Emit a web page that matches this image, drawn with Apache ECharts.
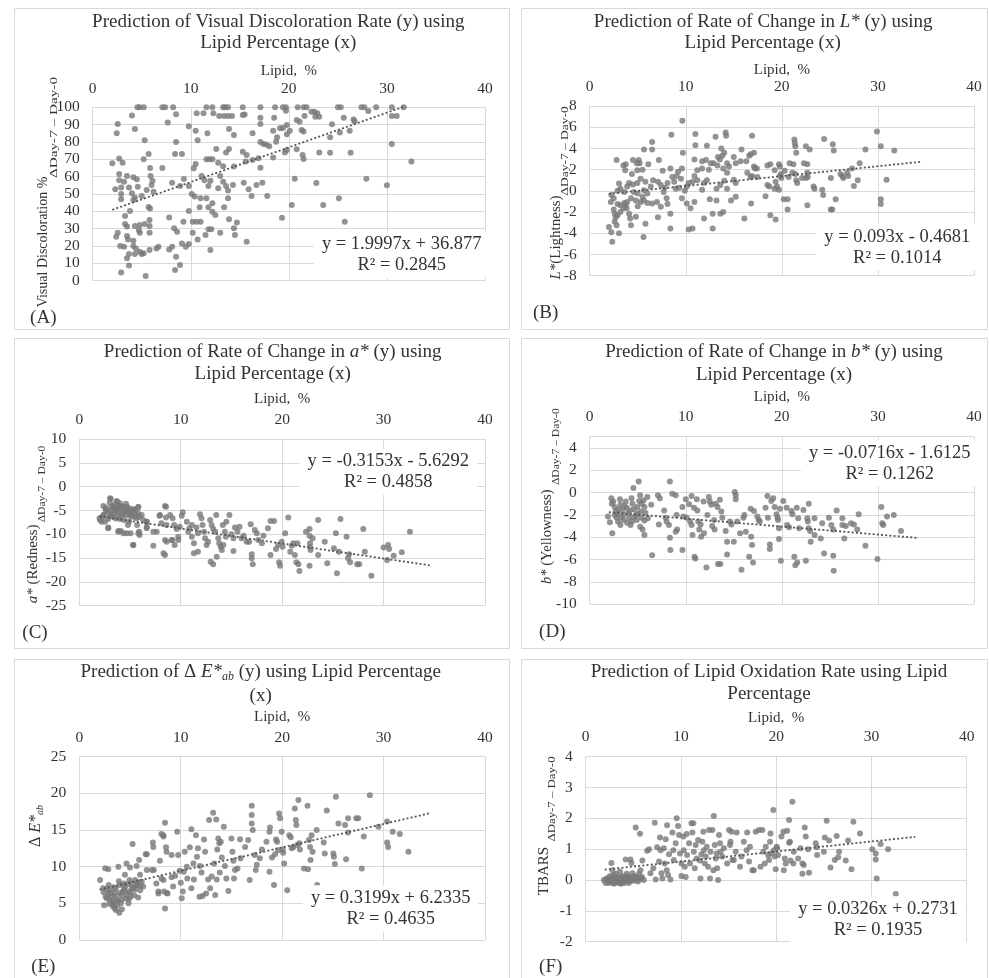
<!DOCTYPE html>
<html>
<head>
<meta charset="utf-8">
<script src="https://cdn.jsdelivr.net/npm/echarts@6/dist/echarts.min.js"></script>
<style>
html, body { margin: 0; padding: 0; background: #fff; }
#main { width: 989px; height: 978px; }
</style>
</head>
<body>
<div id="main"></div>
<script>
// 数据：每个面板的 [脂肪%, 变化量] 散点
var pointsA = [[4.56,100],[4.8,100],[5.2,100],[7.1,100],[7.4,100],[8.2,100],[11.6,100],[12.2,100],[13.3,100],[13.5,100],[13.8,100],[15.3,100],[17.1,100],[18.6,100],
[8.5,96],[10.6,96.5],[11.3,96.5],[12.3,96.5],[12.9,95],[13.4,95],[13.8,95],[14.2,95],[15.3,95.5],[15.5,95.8],[17.1,94],
[4.0,95.2],[2.55,90.4],[17.1,90.4],[7.65,91.3],[9.8,89],
[2.45,85],[4.3,87.5],[10.5,86.5],[11.7,85],[13.9,87.5],[14.4,84],[16.3,85],[18.4,86.5],
[5.3,81],[8.5,80],[10.7,81],[17.1,80],[17.4,78.8],[17.7,78.5],[18.0,77.5],
[12.6,76],[13.6,74],[13.9,76],[8.4,73],[9.1,73],[5.7,73],[5.2,70],[2.7,70.5],[3.05,68],[2.0,67.7],
[11.6,70],[11.9,70],[12.2,70],[12.8,68],[13.3,66],[14.4,65.8],[15.3,74.4],[15.7,72.5],[15.6,68.7],[16.3,69.6],[16.9,70.6],[18.4,71],
[10.5,67.3],[10.3,64.8],[5.85,65],[7.1,65],
[2.7,61.5],[2.7,58],[3.2,57],[3.5,60.4],[4.15,59.6],[4.5,58.5],[5.9,60.4],[6.1,57.7],[8.1,56.5],[9.3,58.7],[9.8,54.6],[8.9,54.6],[11.1,60.4],[11.4,58],[12.0,57.7],[11.8,54.6],[13.0,60.4],[13.3,57],[12.8,53.3],[13.6,54.6],[13.8,52],[14.3,55.2],[15.4,56.5],[15.9,52.7],[16.7,55.2],[17.3,56.5],[16.2,48.8],[17.8,48.8],
[2.3,52.7],[2.9,53.8],[3.7,53.8],[4.6,54.2],[4.0,50.4],[6.0,55.2],[5.5,52.3],[6.2,51.3],
[2.9,50],[2.9,47],[4.3,48],[5.0,48.8],[4.15,46.5],
[10.1,50],[10.4,48.5],[11.0,47.5],[11.6,47.5],[12.2,44.6],[13.8,47.5],[13.4,42.3],
[10.9,42.3],[11.8,42.3],[12.2,39.8],[12.5,37.9],[5.7,42.5],[5.85,41.7],
[3.3,37.3],[3.8,40.2],[9.8,40.2],[7.8,36.5],
[5.8,35],[5.8,31.5],[5.3,32.7],[3.3,32.7],[3.5,31.2],[4.3,31.5],[4.8,32.1],[4.7,29.2],[4.8,27.7],
[8.3,30.2],[8.6,28.3],[9.25,34],[10.2,34],[10.6,34],[11.0,34],[11.8,29.6],[12.1,29.6],[11.5,26.3],
[13.0,27.7],[13.9,35.4],[14.7,33.5],[14.4,30.2],[14.5,26.3],[15.7,22.5],
[2.4,25.4],[2.55,27.7],[3.5,25.8],[3.6,23.8],[5.8,27.7],[10.2,27.7],[10.7,23.8],
[2.8,20],[3.2,19.6],[4.15,23],[4.15,20],[4.4,18.6],[4.8,16.7],[5.0,15.4],[4.3,15.4],[3.7,15.4],[3.5,12.9],[5.2,15.8],[5.8,17.7],[6.7,19.6],[6.5,18.6],
[7.8,18],[8.1,19.6],[8.5,13.8],[8.9,9],[8.4,6.2],[9.5,19.6],[9.1,21.5],[9.8,21.2],[12.0,17.7],
[3.7,8.7],[2.9,4.8],[5.4,2.7],
[19.4,100],[19.7,100],[20.9,100],[21.5,100],[21.8,100],[25.0,100],[25.3,100],[27.4,100],[27.7,100],[28.9,100],[30.5,100],[31.7,100],
[22.3,97.5],[22.6,97.5],[22.9,96.5],[28.1,97.9],[19.7,98],[21.6,95],[22.7,94.6],[23.1,94.6],
[18.5,94],[25.6,94],[30.5,95],[31.0,95],
[20.8,92.7],[21.1,91.7],[19.8,89.8],[19.1,87.9],[19.4,88],[26.6,93],[26.7,92],[24.4,90.2],[21.3,86.9],[21.5,86],[20.1,86.5],[25.2,85.4],[26.2,86.5],[24.2,82.7],[19.8,84.5],[18.8,82.7],[18.7,80.2],[30.5,78.8],
[21.4,72.5],[21.5,70.2],[23.1,74],[24.2,73.8],[26.3,73.8],[20.8,75.8],[19.6,74],[19.8,75.4],[17.1,65.2],[32.5,68.8],
[20.6,58.8],[22.8,56.3],[27.9,58.8],[30.0,55],[25.1,47.5],[20.3,43.7],[23.5,43.7],[19.3,36.3],[25.7,34]];

var pointsB = [[9.64,6.6],[8.5,5.3],[11.0,5.35],[13.1,5.1],[14.15,5.5],[14.2,5.2],[16.9,5.2],[29.9,5.6],[24.4,4.9],[21.3,4.85],[21.35,4.5],[21.4,4.2],[22.5,4.2],[22.9,3.9],[25.3,4.4],[25.4,3.8],[30.3,4.2],[31.7,3.8],[28.7,3.9],[6.5,4.6],[6.5,3.9],[5.65,3.9],[11.0,4.3],[12.2,4.25],[9.7,3.6],[13.7,4.0],[15.8,3.9],[16.75,3.45],[17.1,3.6],[21.5,3.6],
[2.8,2.9],[3.75,2.5],[4.5,2.9],[4.9,2.6],[5.1,2.9],[5.2,2.6],[7.2,2.9],[10.9,2.95],[11.7,2.8],[12.1,2.9],[12.9,2.6],[13.35,3.2],[13.55,2.95],[13.8,3.3],[14.0,3.6],[15.0,3.2],[15.2,2.6],[15.7,2.8],[16.3,2.8],[16.6,3.3],[19.7,2.5],[19.8,2.3],[20.8,2.6],[21.2,2.5],[28.1,2.6],[27.3,2.1],[22.3,2.6],[22.65,2.5],[17.1,2.3],[17.2,2.1],[17.4,2.1],[18.5,2.4],[18.8,2.5],[19.25,1.95],[14.3,2.6],[8.4,2.1],[9.2,1.8],[9.6,2.1],[7.6,1.9],[3.5,2.4],[3.7,1.95],[4.4,1.6],[4.96,1.95],[5.5,2.0],[6.1,2.5],[11.7,2.1],[11.2,1.95],[10.9,1.4],[12.4,2.0],[12.6,2.6],[13.3,2.4],[13.9,2.1],[14.3,1.7],[14.5,2.3],[16.4,1.7],[16.75,1.3],[16.9,1.4],[17.45,1.3],[19.9,1.6],[20.3,1.9],[19.95,1.2],[20.7,1.3],[21.1,1.7],[21.4,1.6],[21.5,1.0],[21.6,0.75],[22.1,1.2],[22.5,1.2],[22.7,1.3],[22.65,1.7],[25.1,1.2],[26.1,1.6],[26.3,1.4],[26.4,1.2],[27.9,1.0],[27.5,0.45],[23.3,0.4],[23.4,0.2],[24.2,0.1],[24.3,-0.4],[18.5,0.55],[18.7,0.4],[19.25,0.2],[19.5,0.4],[19.7,0.1],[19.8,1.4],[19.35,0.85],[15.0,1.05],[15.2,0.75],[14.3,0.2],[14.0,0.95],[13.6,0.55],[13.2,0.2],[12.2,1.0],[11.9,0.75],[11.7,0.1],[11.2,1.0],[10.7,0.85],[10.3,0.75],[10.1,0.4],[9.9,0.0],[9.3,0.3],[8.95,0.2],[8.6,1.3],[8.8,0.85],[9.05,1.4],[9.5,1.15],[8.1,0.75],[7.8,0.3],[7.7,-0.1],[7.4,0.55],[7.1,0.85],[6.6,1.0],[6.35,0.4],[5.8,0.85],[5.65,0.05],[6.0,-0.25],[5.3,1.15],[4.96,0.75],[4.5,0.6],[4.1,0.75],[3.9,0.4],[3.6,-0.1],[3.2,0.2],[3.05,0.7],[2.9,0.0],[4.6,-0.1],[5.0,-0.25],[5.5,-0.55],[4.8,-0.9],[4.3,-0.7],[3.9,-1.05],[3.75,-1.35],[3.5,-1.65],[3.2,-2.0],[2.9,-2.3],[2.7,-2.5],[2.6,-2.9],[2.9,-1.25],[2.5,-0.7],[2.25,-0.4],[2.2,-1.05],[2.5,-1.75],[2.6,-2.15],[2.0,-3.4],[2.25,-3.9],[2.35,-4.8],[3.05,-4.0],[2.8,-3.25],[3.2,-1.35],[3.6,-1.15],[3.85,-1.65],[4.1,-2.15],[4.3,-3.25],[4.2,-2.6],[4.8,-2.45],[5.0,-1.45],[5.3,-1.05],[5.65,-0.9],[6.0,-1.15],[5.6,-4.35],[5.8,-3.1],[6.5,-1.2],[7.0,-1.05],[7.1,-2.5],[7.4,-1.5],[8.0,-0.7],[8.1,-1.25],[8.4,-2.15],[8.4,-3.55],[9.6,-0.7],[10.1,-1.2],[10.5,-1.65],[10.3,-3.65],[10.7,-3.55],[10.9,-1.05],[11.9,-2.6],[12.8,-3.55],[12.5,-0.8],[12.8,-2.15],[13.2,-0.9],[13.6,-2.15],[13.9,-2.0],[14.7,-0.9],[15.2,-0.55],[16.1,-2.6],[16.8,-1.2],[18.3,-0.5],[18.8,-2.3],[19.35,-2.7],[20.2,-0.8],[20.6,-0.8],[20.6,-1.75],[22.65,-1.35],[25.1,-1.75],[25.25,-1.75],[25.6,-0.8],[30.3,-0.8],[30.3,-1.25],[30.9,1.05],[26.9,1.4],[26.8,1.7]];

var pointsC = [[2.0,-6.65],[2.2,-7.35],[2.4,-5.95],[2.6,-4.4],[2.75,-4.9],[2.85,-6.8],[2.85,-8.6],[3.1,-2.6],[3.2,-4.2],[3.3,-4.9],[3.4,-3.85],[3.5,-5.6],[3.35,-6.3],[3.7,-3.0],[3.75,-4.4],[3.85,-5.25],[3.95,-6.3],[4.0,-3.5],[4.1,-4.7],[4.3,-4.2],[4.35,-5.6],[4.4,-7.0],[4.5,-4.9],[4.65,-5.95],[3.85,-9.3],[4.1,-9.3],[4.35,-9.8],[4.8,-4.4],[5.0,-5.25],[5.15,-6.3],[5.25,-4.7],[4.8,-8.05],[5.05,-9.8],[5.3,-12.25],[5.5,-5.6],[5.65,-6.65],[5.7,-8.05],[5.8,-4.4],[5.8,-5.6],[5.9,-9.45],[5.95,-10.15],[6.15,-5.95],[6.3,-7.0],[6.65,-7.35],[6.65,-8.4],[7.3,-9.45],[7.3,-12.4],
[2.6,-5.0],[2.9,-5.4],[3.2,-5.8],[3.5,-4.6],[3.7,-5.3],[3.9,-4.0],[4.2,-5.9],[4.4,-4.4],[4.7,-5.2],[5.0,-6.0],[5.3,-5.0],[5.5,-4.8],[5.9,-6.4],[3.0,-6.2],[3.6,-6.7],[2.4,-6.0],[4.0,-6.8],[4.9,-7.3],[2.2,-6.5],[3.3,-4.3],[4.6,-3.6],[3.0,-3.4],
[3.03,-2.45],[3.69,-3.15],[2.37,-4.05],[4.01,-4.05],[4.67,-4.2],[5.82,-4.2],[5.17,-5.6],[5.49,-6.3],[2.04,-7.0],[2.53,-7.35],[2.86,-8.75],[3.85,-9.45],[4.67,-9.8],[5.82,-9.8],[5.33,-12.25],[6.65,-7.35],[8.45,-4.05],[7.96,-5.95],[6.65,-8.75],[7.63,-9.45],[8.62,-11.55],[9.17,-11.2],[9.76,-11.2],
[7.9,-6.1],[8.1,-7.7],[8.3,-14.0],[8.45,-14.35],[8.55,-4.2],[8.55,-6.5],[8.6,-8.05],[8.45,-11.2],[8.95,-5.95],[9.2,-6.65],[9.35,-8.05],[9.6,-8.9],[9.9,-8.4],[10.2,-5.4],[10.1,-6.1],[9.75,-10.5],[9.4,-12.25],[9.1,-11.2],
[10.6,-7.35],[10.85,-8.75],[10.75,-9.45],[11.1,-8.05],[11.1,-10.5],[11.3,-11.9],[11.3,-14.0],[11.55,-8.6],[11.7,-9.8],[11.7,-13.65],[11.9,-5.8],[12.05,-6.65],[12.15,-8.05],[12.3,-9.45],[12.4,-10.85],[12.55,-12.25],[12.7,-11.55],[12.9,-7.0],[13.05,-8.05],[13.2,-8.9],[13.4,-9.45],[12.95,-15.75],[13.2,-16.3],[13.5,-5.95],
[13.7,-10.85],[13.8,-11.9],[13.95,-12.6],[14.05,-13.3],[14.2,-12.25],[14.15,-8.05],[14.35,-9.45],[14.45,-10.5],[14.5,-7.35],[13.55,-14.7],[14.8,-5.95],[15.0,-10.0],[15.2,-10.85],[15.2,-13.5],[15.35,-8.6],[15.6,-9.45],[15.8,-8.4],[16.0,-10.85],[16.2,-10.3],
[16.5,-11.55],[16.75,-11.55],[16.9,-7.9],[17.0,-14.2],[17.1,-16.3],[17.0,-15.05],[17.3,-9.1],[17.5,-9.8],[17.65,-11.2],[18.0,-11.9],[18.15,-10.3],
[18.6,-8.75],[18.85,-7.2],[19.2,-7.2],[18.85,-14.35],[19.4,-13.1],[19.6,-12.25],[19.7,-15.9],[19.8,-16.6],[19.95,-11.55],[20.05,-12.6],[20.3,-9.8],
[20.6,-6.5],[20.8,-13.65],[20.95,-12.4],[21.1,-11.9],[21.25,-14.35],[21.4,-15.9],[21.6,-16.3],[21.7,-17.7],[21.5,-11.9],
[22.35,-9.45],[22.7,-8.9],[22.7,-10.3],[22.75,-11.9],[22.75,-12.6],[23.0,-10.85],[22.8,-13.3],[22.7,-16.6],[23.55,-14.35],[23.55,-7.0],
[24.2,-11.55],[24.45,-16.1],[25.1,-12.95],[25.3,-9.8],[25.4,-18.2],[25.6,-13.65],[25.75,-6.8],[26.35,-10.5],[26.5,-15.05],[26.6,-14.2],[26.7,-15.9],[27.4,-16.3],[27.6,-16.3],[28.0,-8.9],[28.15,-13.65],[28.8,-18.7],[30.0,-12.8],[30.45,-12.25],[30.55,-13.1],[30.35,-15.4],[31.0,-14.5],[31.8,-13.8],[32.6,-9.45]];

var pointsD = [[5.1,1.0],[4.55,0.4],[8.35,1.0],[1.9,-2.15],[2.1,-2.65],[2.35,-3.65],[2.25,-0.5],[2.45,-0.8],[2.6,-1.3],[2.7,-1.7],[2.8,-2.25],[2.95,-2.6],[3.15,-0.6],[3.2,-1.1],[3.4,-1.6],[3.5,-2.0],[3.55,-2.45],[3.75,-0.8],[3.85,-1.35],[4.0,-1.85],[4.1,-2.25],[4.25,-2.9],[4.35,-0.5],[4.45,-1.0],[4.6,-1.5],[4.8,-2.0],[4.9,-2.45],[4.95,-1.3],[5.15,-0.75],[5.25,-0.25],[5.3,-1.7],[5.4,-2.25],[5.6,-0.7],[5.7,-1.3],[5.8,-1.8],[6.0,-0.4],[6.05,-2.3],[5.25,-3.05],[5.5,-3.3],[5.7,-3.8],
[2.3,-1.0],[2.6,-2.0],[3.0,-1.5],[3.3,-2.2],[3.6,-1.2],[3.9,-2.7],[4.2,-1.6],[4.6,-2.2],[5.0,-1.9],[5.4,-1.0],[5.7,-2.5],[3.2,-2.9],[4.4,-2.6],[2.9,-1.9],
[6.4,-1.1],[6.5,-5.6],[7.1,-0.25],[7.3,-0.5],[7.2,-2.85],[7.75,-1.6],[7.9,-2.25],[8.0,-2.6],[8.25,-2.9],[8.35,-4.05],[8.4,-5.15],[8.6,-0.1],[8.95,-0.25],[8.95,-3.5],[9.1,-3.3],[9.05,-2.0],
[9.65,-1.3],[9.75,-2.15],[9.65,-5.15],[10.0,-0.6],[10.1,-2.25],[10.35,-1.05],[10.45,-2.6],[10.6,-2.9],[10.6,-0.3],[10.7,-3.8],[10.85,-1.35],[10.9,-5.75],[11.0,-5.9],[11.15,-0.6],[11.2,-1.6],[11.3,-2.6],[11.4,-3.3],[11.55,-2.85],[11.6,-3.95],[11.85,-0.8],[11.9,-3.65],
[12.15,-6.7],[12.25,-2.0],[12.4,-0.4],[12.5,-0.8],[12.65,-1.1],[12.75,-3.0],[12.95,-2.45],[13.0,-3.3],[13.1,-1.0],[13.3,-1.3],[13.35,-6.4],[13.6,-6.4],[13.55,-0.65],[13.7,-1.7],[13.8,-2.25],
[14.15,-3.45],[14.3,-4.4],[14.3,-5.55],[14.6,-2.6],[14.75,-2.85],[15.0,-4.4],[15.1,0.05],[15.2,-0.25],[15.2,-0.6],[15.35,-2.6],[15.65,-3.65],[15.8,-6.9],[16.0,-2.25],[16.1,-2.0],[16.25,-3.5],
[16.6,-5.75],[16.75,-1.45],[16.8,-3.95],[16.9,-4.7],[17.0,-6.25],[17.1,-1.65],[17.45,-2.15],[17.6,-2.45],[17.7,-2.6],
[18.3,-1.35],[18.5,-0.3],[18.55,-2.25],[18.75,-5.05],[18.75,-4.65],[18.9,-0.75],[19.1,-0.5],[19.25,-1.3],[19.45,-1.95],[19.55,-2.25],[19.6,-2.45],[19.7,-3.2],[19.7,-4.15],[19.8,-1.45],[19.9,-6.1],
[20.15,-0.75],[20.5,-1.35],[20.55,-2.9],[20.75,-3.1],[21.0,-1.65],[21.1,-1.95],[21.3,-5.75],[21.4,-6.5],[21.55,-1.35],[21.6,-6.25],[21.7,-2.3],[21.8,-3.2],
[22.25,-1.55],[22.5,-6.1],[22.65,-2.3],[22.7,-2.6],[22.8,-1.0],[22.8,-3.2],[22.95,-3.45],[23.0,-4.4],[23.4,-2.3],[23.4,-3.8],
[24.05,-4.1],[24.2,-2.75],[24.4,-5.45],[24.9,-2.25],[25.15,-2.9],[25.35,-3.3],[25.35,-5.65],[25.4,-7.0],[25.7,-1.6],[26.3,-2.3],[26.3,-2.9],[26.5,-4.1],[26.65,-3.0],[27.2,-2.75],[27.5,-2.85],[27.85,-3.3],[28.0,-1.95],[28.7,-4.75],[29.95,-5.95],[30.35,-1.3],[30.45,-2.75],[30.55,-2.9],[30.95,-2.15],[31.65,-2.0],[32.4,-3.45]];

var pointsE = [[2.05,8.2],[2.35,7.05],[2.55,9.8],[2.85,9.65],[2.45,4.75],[2.7,5.7],[2.85,6.35],[3.0,6.8],[2.95,4.9],[3.2,5.9],[3.3,5.2],[3.4,7.2],[3.5,6.45],[3.7,5.55],[3.75,4.75],[3.35,4.55],[3.6,4.1],
[3.85,10.0],[4.0,7.5],[4.1,6.15],[4.2,4.2],[3.95,3.7],[4.3,6.6],[4.4,7.7],[4.5,7.3],[4.6,5.7],[4.65,10.45],[4.85,5.0],[4.95,8.2],[5.0,9.9],[5.05,5.9],
[2.4,6.5],[2.7,7.0],[3.0,5.5],[3.1,6.4],[3.3,5.0],[3.5,6.0],[3.6,7.0],[3.8,5.3],[4.0,6.4],[4.2,5.5],[4.4,6.9],[4.6,6.2],[4.8,7.6],[5.0,6.5],[5.2,7.1],[5.5,6.9],[5.8,7.9],[6.0,7.4],[2.6,5.9],[3.4,4.8],[4.1,5.0],[4.9,5.6],[5.4,6.1],[2.9,7.5],[3.9,8.0],
[5.99,8.9],[4.5,8.9],[3.52,4.3],[4.83,6.6],[5.66,7.5],[6.65,11.7],[8.1,8.4],[7.8,6.6],[8.62,6.4],[8.28,14.3],
[5.25,13.1],[5.15,7.7],[5.3,7.05],[5.5,8.2],[5.65,10.1],[5.7,7.5],[5.8,5.8],[5.9,10.9],[6.0,6.8],[6.15,7.95],[6.3,7.3],[6.55,11.7],[6.65,9.55],
[7.15,9.55],[7.25,13.3],[7.3,12.7],[7.35,9.55],[7.6,7.7],[7.8,6.35],[7.95,10.8],[8.1,14.45],[8.3,14.1],[8.3,8.2],[8.35,6.6],[8.45,16.0],[8.45,4.3],[8.55,12.65],[8.6,12.05],[8.7,6.35],
[9.1,11.6],[9.1,8.55],[9.25,7.3],[9.45,8.75],[9.65,14.75],[9.75,11.6],[9.9,9.45],[10.0,7.8],[10.1,5.7],[10.2,6.6],[10.3,9.3],[10.4,12.05],[10.6,10.0],[10.65,8.4],
[10.9,12.65],[11.05,15.1],[11.05,7.05],[11.25,10.45],[11.3,8.25],[11.5,14.3],[11.6,11.35],[11.7,12.5],[11.85,5.9],[11.9,10.1],[12.05,9.2],[12.15,6.0],[12.3,13.7],[12.4,12.05],[12.5,6.35],
[12.7,8.25],[12.8,16.35],[12.9,7.05],[13.05,8.65],[13.2,17.35],[13.3,10.45],[13.4,6.15],[13.5,16.45],[13.55,8.25],[13.6,12.35],[13.7,13.85],[13.8,13.2],[13.85,9.2],[13.95,13.4],[14.05,11.25],[14.25,15.45],[14.35,10.1],[14.5,8.4],[14.7,6.7],
[15.0,13.85],[15.1,12.05],[15.2,10.8],[15.25,8.4],[15.35,9.55],[15.6,9.75],[15.85,13.75],[15.9,11.15],[16.35,12.7],[16.65,13.65],[16.8,8.2],
[17.0,18.3],[17.0,17.05],[17.0,15.9],[17.1,15.0],[17.3,11.6],[17.4,9.55],[17.5,10.25],[17.8,11.15],[18.0,12.35],
[18.45,13.4],[18.75,14.75],[18.75,9.3],[18.8,15.35],[19.0,11.25],[19.2,7.5],[19.3,11.7],[19.4,13.7],[19.5,13.4],[19.6,12.25],[19.7,17.25],[19.8,16.6],[19.95,14.75],[20.05,12.35],[20.1,11.9],[20.2,10.45],[20.5,6.8],
[20.7,14.3],[20.85,14.0],[20.95,12.5],[21.1,12.7],[21.25,17.95],[21.35,16.35],[21.4,15.7],[21.5,12.95],[21.6,19.1],[21.7,13.2],[21.75,12.35],
[22.15,9.75],[22.5,18.3],[22.55,9.65],[22.65,13.65],[22.75,12.7],[22.8,10.9],[22.9,14.3],[23.0,12.05],[23.4,15.0],[23.45,7.5],[24.1,13.3],[24.2,11.8],[24.4,17.65],[25.05,11.8],[25.1,11.35],[25.2,10.35],[25.3,19.55],[25.55,15.9],[26.2,15.7],[26.3,11.0],[26.5,14.65],[26.5,16.6],[27.3,16.6],[27.5,16.6],[27.85,9.75],[28.05,14.1],[28.65,19.75],[29.5,15.45],[30.35,16.15],[30.35,13.3],[30.45,12.7],[30.9,14.75],[31.6,14.45],[32.45,12.05]];

var pointsF = [[1.9,0.0],[2.1,-0.1],[2.3,0.05],[2.45,-0.1],[2.55,0.13],[2.6,-0.02],[2.7,0.55],[2.8,0.32],[2.9,-0.1],[3.05,0.02],[3.15,0.2],[3.25,-0.05],[3.4,0.1],[3.5,-0.1],[3.6,0.27],[3.75,0.0],[3.85,0.13],[3.95,-0.05],[4.1,0.05],[4.2,0.67],[4.3,0.2],[4.35,0.0],[4.55,0.1],[4.65,-0.05],[4.7,0.67],[4.8,0.55],[4.9,0.22],[5.0,0.05],[5.05,-0.02],[5.25,1.7],[5.35,0.1],[5.4,0.0],[5.6,0.2],[5.7,1.5],[5.75,0.32],[5.85,0.05],[5.95,0.63],[6.1,0.0],
[2.2,0.05],[2.5,-0.05],[2.75,0.08],[3.0,-0.12],[3.3,0.05],[3.55,-0.08],[3.8,0.08],[4.05,-0.1],[4.4,0.12],[4.75,0.02],[5.1,0.12],[5.5,-0.05],[5.9,0.1],[2.95,0.15],[3.7,-0.12],[4.5,-0.1],
[6.45,0.95],[6.65,1.0],[6.8,0.22],[7.1,0.38],[7.25,1.86],[7.35,0.02],[7.5,1.06],[7.7,0.6],[7.8,1.38],[7.85,0.97],[7.95,0.22],[8.05,0.05],[8.2,1.03],[8.3,0.54],[8.4,1.32],[8.5,0.32],[8.55,1.78],[8.65,0.16],[8.75,0.84],[8.9,0.02],[9.1,1.54],[9.2,0.97],[9.25,0.65],[9.45,1.19],[9.55,2.0],[9.7,1.75],[9.8,1.46],[9.9,0.86],[10.05,0.54],[10.05,0.13],
[10.25,1.41],[10.3,0.97],[10.4,0.43],[10.5,0.1],[10.6,1.49],[10.65,0.81],[10.85,1.19],[10.95,0.54],[11.1,1.84],[11.2,1.54],[11.3,1.84],[11.35,0.92],[11.45,0.38],[11.55,1.14],[11.65,0.7],[11.8,1.3],[12.0,0.63],[12.05,0.05],[12.15,0.84],[12.25,1.24],[12.35,1.57],[12.4,0.97],[12.5,0.54],[12.6,0.76],[12.7,1.08],[12.85,0.43],[12.95,1.62],[13.05,0.05],[13.1,0.92],[13.3,1.62],[13.4,0.32],[13.45,2.08],[13.55,1.14],[13.65,0.7],[13.75,0.86],[13.8,0.38],[13.9,0.0],[14.0,1.46],[14.1,1.19],[14.15,0.92],[14.35,0.76],[14.5,1.03],
[14.85,0.54],[15.05,1.62],[15.15,1.14],[15.2,1.24],[15.3,1.57],[15.4,0.65],[15.55,0.65],[15.75,0.92],[15.85,1.54],[16.2,0.43],[16.35,0.76],[16.6,1.24],[16.9,0.97],[16.95,1.54],[17.15,0.6],[17.25,1.08],[17.5,0.32],[17.65,0.32],[17.85,1.57],[18.2,1.62],[18.35,0.43],[18.55,1.62],[18.65,0.92],[18.8,0.54],[18.9,1.08],[19.15,0.81],[19.25,0.65],[19.35,1.24],[19.4,1.51],[19.5,0.86],[19.7,2.27],[19.75,0.97],[19.85,0.76],[19.95,0.35],[20.05,1.08],[20.1,1.03],[20.2,0.81],
[20.55,1.41],[20.75,1.57],[20.8,0.32],[20.9,0.7],[21.0,0.54],[21.15,1.6],[21.35,1.21],[21.35,1.95],[21.45,1.24],[21.5,0.63],[21.7,2.54],[21.8,0.54],[21.85,0.92],[22.3,0.7],[22.55,1.03],[22.75,0.54],[22.75,0.2],[22.9,0.49],[23.0,1.7],[23.1,1.41],[23.35,1.0],[23.45,0.24],[24.15,1.19],[24.25,1.06],[24.3,0.81],[25.0,0.92],[25.1,1.38],[25.3,1.92],[25.55,1.28],[25.7,0.41],[26.15,0.65],[26.35,1.43],[26.5,0.74],[26.6,0.92],[27.3,0.63],[27.55,1.28],[27.9,0.35],[28.1,1.89],[28.8,1.51],[30.1,1.0],[30.45,0.86],[30.45,0.67],[30.55,0.05],[30.95,1.17],[31.75,1.0],[32.55,-0.45]];

// 趋势线端点（读自图中虚线）
var trendA = [[2.0, 40.9], [34.6, 106.1]];
var trendB = [[2.0, -0.28], [34.6, 2.75]];
var trendC = [[2.0, -6.26], [34.6, -16.54]];
var trendD = [[2.0, -1.76], [34.2, -4.06]];
var trendE = [[2.0, 6.87], [34.6, 17.3]];
var trendF = [[2.0, 0.34], [34.6, 1.40]];

// 坐标轴范围 [min, max, interval]
var xRange = [0, 40, 10];
var yRangeA = [0, 100, 10];
var yRangeB = [-8, 8, 2];
var yRangeC = [-25, 10, 5];
var yRangeD = [-10, 5, 2];
var yRangeE = [0, 25, 5];
var yRangeF = [-2, 4, 1];

var equations = [
    'y = 1.9997x + 36.877\nR² = 0.2845',
    'y = 0.093x - 0.4681\nR² = 0.1014',
    'y = -0.3153x - 5.6292\nR² = 0.4858',
    'y = -0.0716x - 1.6125\nR² = 0.1262',
    'y = 0.3199x + 6.2335\nR² = 0.4635',
    'y = 0.0326x + 0.2731\nR² = 0.1935'
];

var FONT = 'Liberation Serif';
var TXT = '#333';

var panels = [
    {pts: pointsA, trend: trendA, yr: yRangeA, grid: [92.7, 107.3, 392.3, 173.4], lm: 10, ng: 29, eq: [401.7, 254.5]},
    {pts: pointsB, trend: trendB, yr: yRangeB, grid: [589.7, 106, 384.3, 169.7], lm: 11, ng: 28, eq: [897.3, 247.3]},
    {pts: pointsC, trend: trendC, yr: yRangeC, grid: [79.3, 439, 405.7, 166.7], lm: 11, ng: 32, eq: [388.3, 472]},
    {pts: pointsD, trend: trendD, yr: yRangeD, grid: [589.7, 436.7, 384.3, 167.6], lm: 12, ng: 32, eq: [889.7, 463.3]},
    {pts: pointsE, trend: trendE, yr: yRangeE, grid: [79.3, 756.7, 405.7, 183.3], lm: 10.5, ng: 32, eq: [390.7, 908.3]},
    {pts: pointsF, trend: trendF, yr: yRangeF, grid: [585.7, 756.7, 381, 185], lm: 11.5, ng: 31, eq: [878, 919.3]}
];

var grids = [], xAxes = [], yAxes = [], series = [];
panels.forEach(function (p, i) {
    grids.push({left: p.grid[0], top: p.grid[1], width: p.grid[2], height: p.grid[3], outerBoundsMode: 'none'});
    xAxes.push({
        gridIndex: i, type: 'value', position: 'top',
        min: xRange[0], max: xRange[1], interval: xRange[2],
        axisLine: {show: false}, axisTick: {show: false},
        splitLine: {show: true, lineStyle: {color: '#d9d9d9', width: 1}},
        axisLabel: {margin: p.lm, fontFamily: FONT, fontSize: 15.5, color: TXT},
        name: 'Lipid,  %', nameLocation: 'middle', nameGap: p.ng,
        nameTextStyle: {fontFamily: FONT, fontSize: 15, color: TXT}
    });
    yAxes.push({
        gridIndex: i, type: 'value',
        min: p.yr[0], max: p.yr[1], interval: p.yr[2],
        axisLine: {show: false}, axisTick: {show: false},
        splitLine: {show: true, lineStyle: {color: '#d9d9d9', width: 1}},
        axisLabel: {margin: 13, fontFamily: FONT, fontSize: 15.5, color: TXT, showMaxLabel: i !== 3}
    });
    series.push({
        type: 'scatter', xAxisIndex: i, yAxisIndex: i, data: p.pts,
        symbolSize: 6, itemStyle: {color: '#787878'}, clip: false, silent: true, z: 2
    });
    series.push({
        type: 'line', xAxisIndex: i, yAxisIndex: i, data: p.trend,
        showSymbol: false, symbol: 'none', clip: true, silent: true, z: 3,
        lineStyle: {color: '#555', width: 1.8, type: [2, 2.2]}
    });
});

function txt(x, y, text, size, extra) {
    var el = {
        type: 'text', x: x, y: y, z: 100, silent: true,
        style: {
            text: text, fontFamily: FONT, fontSize: size, fill: TXT,
            align: 'center', verticalAlign: 'middle', textAlign: 'center', textVerticalAlign: 'middle',
            rich: {
                i: {fontFamily: FONT, fontSize: size, fontStyle: 'italic', fill: TXT},
                sub: {fontFamily: FONT, fontSize: Math.round(size * 0.62), fontStyle: 'italic', fill: TXT, verticalAlign: 'bottom', lineHeight: size + 3},
                n: {fontFamily: FONT, fontSize: size, fill: TXT, lineHeight: size + 3}
            }
        }
    };
    if (extra) {
        for (var k in extra) el[k] = extra[k];
    }
    return el;
}

var graphics = [];
// 面板边框
[[14, 8, 495, 321], [521, 8, 466, 321], [14, 338, 495, 310], [521, 338, 466, 310], [14, 659, 495, 330], [521, 659, 466, 330]].forEach(function (r) {
    graphics.push({type: 'rect', shape: {x: r[0] + 0.5, y: r[1] + 0.5, width: r[2], height: r[3]}, style: {fill: 'none', stroke: '#d9d9d9', lineWidth: 1}, z: 0, silent: true});
});

// 标题
graphics.push(txt(278.3, 21.7, 'Prediction of Visual Discoloration Rate (y) using', 19));
graphics.push(txt(278.3, 43.3, 'Lipid Percentage (x)', 19));
graphics.push(txt(763.2, 21.7, 'Prediction of Rate of Change in {i|L*} (y) using', 19));
graphics.push(txt(762.7, 43.3, 'Lipid Percentage (x)', 19));
graphics.push(txt(272.7, 351.7, 'Prediction of Rate of Change in {i|a*} (y) using', 19));
graphics.push(txt(272.7, 374.3, 'Lipid Percentage (x)', 19));
graphics.push(txt(774, 351.7, 'Prediction of Rate of Change in {i|b*} (y) using', 19));
graphics.push(txt(774, 375, 'Lipid Percentage (x)', 19));
graphics.push(txt(260.7, 671.7, '{n|Prediction of Δ }{i|E*}{sub|ab}{n| (y) using Lipid Percentage}', 19));
graphics.push(txt(260.7, 696, '(x)', 19));
graphics.push(txt(769, 671.7, 'Prediction of Lipid Oxidation Rate using Lipid', 19));
graphics.push(txt(769, 694, 'Percentage', 19));

// 纵轴标题（旋转）
var ROT = Math.PI / 2;
graphics.push(txt(43.3, 242, 'Visual Discoloration %', 14, {rotation: ROT}));
graphics.push(txt(54, 127.5, 'ΔDay-7 – Day-0', 10.5, {rotation: ROT, scaleX: 1.45}));
graphics.push(txt(555.7, 237.5, '{i|L*}(Lightness)', 15, {rotation: ROT}));
graphics.push(txt(565, 151, 'ΔDay-7 – Day-0', 10.5, {rotation: ROT, scaleX: 1.28}));
graphics.push(txt(33.3, 563.8, '{i|a*} (Redness)', 15, {rotation: ROT}));
graphics.push(txt(42, 484, 'ΔDay-7 – Day-0', 10.5, {rotation: ROT, scaleX: 1.1}));
graphics.push(txt(547.3, 536.7, '{i|b*} (Yellowness)', 14.6, {rotation: ROT}));
graphics.push(txt(556, 446.7, 'ΔDay-7 – Day-0', 10.5, {rotation: ROT, scaleX: 1.1}));
graphics.push(txt(36, 826, '{n|Δ }{i|E*}{sub|ab}', 16, {rotation: ROT}));
graphics.push(txt(544, 871, 'TBARS', 15, {rotation: ROT}));
graphics.push(txt(552, 799, 'ΔDay-7 – Day-0', 10.5, {rotation: ROT, scaleX: 1.22}));

// 回归方程
panels.forEach(function (p, i) {
    graphics.push({
        type: 'text', x: p.eq[0], y: p.eq[1], z: 100, silent: true,
        style: {
            text: equations[i], fontFamily: FONT, fontSize: 18.5, lineHeight: 21, fill: TXT,
            align: 'center', verticalAlign: 'middle', textAlign: 'center', textVerticalAlign: 'middle',
            backgroundColor: '#fff', padding: [2, 8]
        }
    });
});

// 面板编号
[['(A)', 43.3, 318.3], ['(B)', 545.7, 313.3], ['(C)', 35, 633.3], ['(D)', 552.3, 632.3], ['(E)', 43.3, 967.3], ['(F)', 550.7, 967.3]].forEach(function (l) {
    graphics.push(txt(l[1], l[2], l[0], 19));
});

var myChart = echarts.init(document.getElementById('main'));
myChart.setOption({
    animation: false,
    backgroundColor: '#fff',
    grid: grids,
    xAxis: xAxes,
    yAxis: yAxes,
    series: series,
    graphic: {elements: graphics}
});
</script>
</body>
</html>
